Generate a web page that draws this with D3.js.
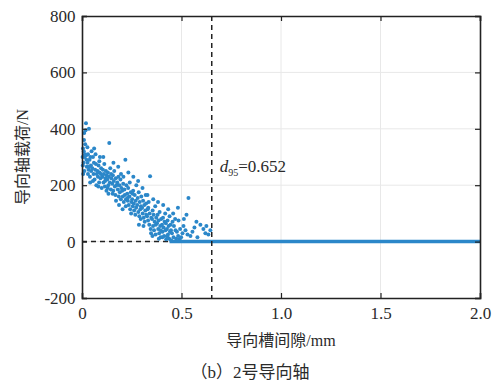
<!DOCTYPE html>
<html>
<head>
<meta charset="utf-8">
<script src="https://cdn.jsdelivr.net/npm/d3@7"></script>
<style>
  body { margin: 0; background: #fff; }
  text { font-family: "Liberation Serif", "Noto Sans CJK SC", serif; fill: #2a2a2a; }
</style>
</head>
<body>
<svg id="chart" width="496" height="382"></svg>
<script>
// gap (mm) vs load (N)
const loadPoints = [
  [0.003,300],[0.005,330],[0.008,280],[0.01,360],[0.012,250],[0.015,310],[0.018,395],[0.02,420],[0.022,290],[0.004,270],[0.009,320],[0.016,345],[0.024,265],[0.006,240],[0.013,300],[0.02,305],[0.011,385],
  [0.028,280],[0.03,310],[0.033,255],[0.035,400],[0.038,290],[0.04,230],[0.042,300],[0.045,270],[0.048,320],[0.03,240],[0.036,265],[0.046,250],[0.027,335],[0.041,210],
  [0.052,260],[0.055,300],[0.058,240],[0.06,280],[0.063,220],[0.066,255],[0.07,275],[0.072,200],[0.055,215],[0.068,310],[0.074,240],[0.061,330],
  [0.078,250],[0.08,230],[0.083,270],[0.086,210],[0.088,245],[0.09,300],[0.093,225],[0.096,260],[0.099,190],[0.082,195],[0.095,240],[0.087,285],
  [0.102,230],[0.105,255],[0.108,210],[0.11,240],[0.112,275],[0.115,195],[0.118,225],[0.12,250],[0.123,180],[0.107,300],[0.116,215],[0.124,235],
  [0.127,220],[0.13,245],[0.132,200],[0.135,230],[0.137,350],[0.14,210],[0.142,260],[0.145,185],[0.148,225],[0.133,170],[0.146,240],[0.129,190],
  [0.152,205],[0.155,235],[0.157,180],[0.16,215],[0.162,250],[0.165,195],[0.168,165],[0.17,225],[0.173,200],[0.158,280],[0.171,145],[0.154,170],
  [0.177,210],[0.18,185],[0.183,230],[0.185,160],[0.188,200],[0.19,175],[0.193,220],[0.195,150],[0.198,190],[0.182,265],[0.196,240],[0.186,130],
  [0.202,180],[0.205,160],[0.207,205],[0.21,140],[0.213,185],[0.215,165],[0.218,290],[0.22,125],[0.223,200],[0.208,230],[0.221,150],[0.204,115],
  [0.227,170],[0.23,145],[0.232,190],[0.235,130],[0.238,160],[0.24,210],[0.242,115],[0.245,175],[0.248,140],[0.233,245],[0.247,100],[0.229,155],
  [0.252,150],[0.255,125],[0.257,180],[0.26,135],[0.262,110],[0.265,165],[0.268,95],[0.27,145],[0.273,200],[0.258,230],[0.272,120],[0.254,170],
  [0.277,130],[0.28,155],[0.283,105],[0.285,175],[0.288,90],[0.29,140],[0.293,115],[0.295,80],[0.298,160],[0.282,215],[0.296,125],[0.286,60],
  [0.302,120],[0.305,100],[0.307,145],[0.31,85],[0.313,130],[0.315,70],[0.318,110],[0.32,165],[0.323,95],[0.309,55],[0.322,135],[0.304,190],
  [0.327,90],[0.33,115],[0.332,75],[0.335,140],[0.338,60],[0.34,100],[0.342,232],[0.345,45],[0.348,85],[0.333,120],[0.347,30],[0.329,165],
  [0.352,80],[0.355,110],[0.357,55],[0.36,95],[0.362,40],[0.365,70],[0.368,125],[0.37,25],[0.373,85],[0.358,150],[0.371,60],[0.354,20],
  [0.377,65],[0.38,95],[0.383,45],[0.385,75],[0.388,30],[0.39,105],[0.393,55],[0.395,15],[0.398,80],[0.382,140],[0.396,40],[0.386,10],
  [0.402,60],[0.405,35],[0.407,85],[0.41,50],[0.413,20],[0.415,70],[0.418,100],[0.42,40],[0.423,8],[0.408,130],[0.421,65],[0.404,15],
  [0.427,45],[0.43,75],[0.432,25],[0.435,55],[0.438,10],[0.44,90],[0.442,35],[0.445,60],[0.448,5],[0.433,115],[0.447,40],[0.429,18],
  [0.452,30],[0.455,70],[0.46,15],[0.462,55],[0.468,80],[0.47,40],[0.473,10],[0.458,100],
  [0.477,35],[0.483,20],[0.485,75],[0.49,8],[0.493,45],[0.498,15],[0.482,120],
  [0.505,30],[0.51,55],[0.52,40],[0.525,95],[0.53,25],[0.535,155],[0.545,20],[0.512,80],
  [0.555,35],[0.565,50],[0.575,70],[0.58,15],[0.595,60],
  [0.61,45],[0.62,30],[0.625,55],[0.635,25],[0.645,40]
];
// run of points sitting on zero load
const zeroRun = [0.44, 2.0];
const d95 = 0.652;

const xTicks = [0, 0.5, 1.0, 1.5, 2.0];
const xTickLabels = ['0', '0.5', '1.0', '1.5', '2.0'];
const yTicks = [-200, 0, 200, 400, 600, 800];
const yTickLabels = ['-200', '0', '200', '400', '600', '800'];

const svg = d3.select('#chart');
const margin = { left: 82, right: 16, top: 16, bottom: 84 };
const width = 496, height = 382;
const x = d3.scaleLinear().domain([0, 2]).range([margin.left, width - margin.right]);
const y = d3.scaleLinear().domain([-200, 800]).range([height - margin.bottom, margin.top]);

const blue = '#2b87c9';

// grid
svg.append('g').selectAll('line').data(xTicks.slice(1, -1)).enter().append('line')
  .attr('x1', d => x(d)).attr('x2', d => x(d))
  .attr('y1', y(800)).attr('y2', y(-200))
  .attr('stroke', '#e8e8e8').attr('stroke-width', 1);
svg.append('g').selectAll('line').data(yTicks.slice(1, -1)).enter().append('line')
  .attr('x1', x(0)).attr('x2', x(2))
  .attr('y1', d => y(d)).attr('y2', d => y(d))
  .attr('stroke', '#e8e8e8').attr('stroke-width', 1);

// reference lines
svg.append('line')
  .attr('x1', x(0)).attr('x2', x(d95))
  .attr('y1', y(0)).attr('y2', y(0))
  .attr('stroke', '#222').attr('stroke-width', 1.5).attr('stroke-dasharray', '5,4');

// points
svg.append('g').selectAll('circle').data(loadPoints).enter().append('circle')
  .attr('cx', d => x(d[0])).attr('cy', d => y(d[1]))
  .attr('r', 2).attr('fill', blue);

svg.append('line')
  .attr('x1', x(zeroRun[0])).attr('x2', x(zeroRun[1]))
  .attr('y1', y(0)).attr('y2', y(0))
  .attr('stroke', blue).attr('stroke-width', 3.5);

svg.append('line')
  .attr('x1', x(d95)).attr('x2', x(d95))
  .attr('y1', y(800)).attr('y2', y(-200))
  .attr('stroke', '#222').attr('stroke-width', 1.5).attr('stroke-dasharray', '5,4');

// axes
const xAxis = d3.axisBottom(x).tickValues(xTicks).tickSize(-5).tickFormat((d, i) => xTickLabels[i]);
const gx = svg.append('g').attr('transform', `translate(0,${y(-200)})`).call(xAxis);
const yAxis = d3.axisLeft(y).tickValues(yTicks).tickSize(-5).tickFormat((d, i) => yTickLabels[i]);
const gy = svg.append('g').attr('transform', `translate(${x(0)},0)`).call(yAxis);
svg.append('g').attr('transform', `translate(${x(2)},0)`)
  .call(d3.axisRight(y).tickValues(yTicks).tickSize(-5).tickFormat(''));
svg.append('g').attr('transform', `translate(0,${y(800)})`)
  .call(d3.axisTop(x).tickValues(xTicks).tickSize(-5).tickFormat(''));

svg.selectAll('.domain').attr('stroke', '#222').attr('stroke-width', 1.6);
svg.selectAll('.tick line').attr('stroke', '#222').attr('stroke-width', 1.2);
gx.selectAll('text').attr('font-size', 17).attr('dy', '1.05em').attr('font-family', 'Liberation Serif').attr('fill', '#2a2a2a');
gy.selectAll('text').attr('font-size', 17).attr('dx', '-0.2em').attr('font-family', 'Liberation Serif').attr('fill', '#2a2a2a');

// labels
svg.append('text')
  .attr('x', (x(0) + x(2)) / 2).attr('y', 346)
  .attr('text-anchor', 'middle').attr('font-size', 16)
  .text('导向槽间隙/mm');
svg.append('text')
  .attr('transform', `translate(28,${(y(800) + y(-200)) / 2}) rotate(-90)`)
  .attr('text-anchor', 'middle').attr('font-size', 16)
  .text('导向轴载荷/N');
svg.append('text')
  .attr('x', 250).attr('y', 378)
  .attr('text-anchor', 'middle').attr('font-size', 17)
  .attr('font-family', '"Noto Sans CJK SC", sans-serif')
  .text('（b）2号导向轴');

const ann = svg.append('text')
  .attr('x', x(d95) + 8).attr('y', 172).attr('font-size', 17);
ann.append('tspan').attr('font-style', 'italic').text('d');
ann.append('tspan').attr('font-size', 10).attr('dy', 4).text('95');
ann.append('tspan').attr('dy', -4).text('=0.652');
</script>
</body>
</html>
